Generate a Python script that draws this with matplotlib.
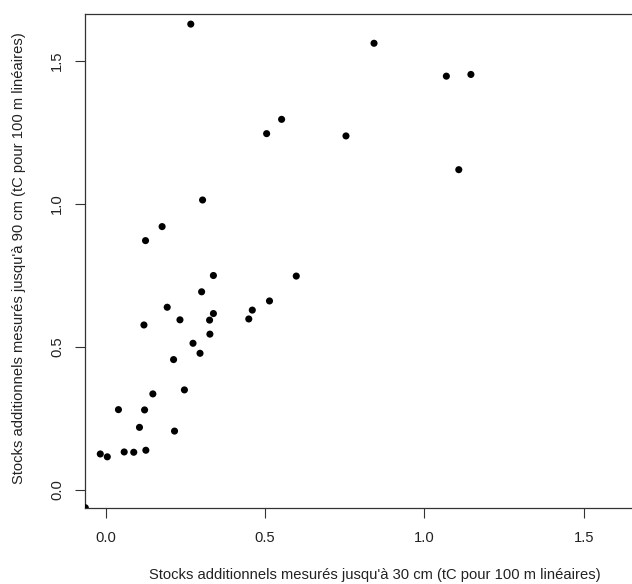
import matplotlib
matplotlib.use("Agg")
import matplotlib.pyplot as plt

plt.rcParams['font.family'] = ['Liberation Sans', 'DejaVu Sans']

# stocks additionnels (tC pour 100 m linéaires)
stock_30cm = [0.267, 0.842, 1.069, 1.146, 1.108, 0.552, 0.505, 0.754, 0.304,
              0.177, 0.125, 0.338, 0.598, 0.301, 0.514, 0.193, 0.338, 0.233,
              0.326, 0.460, 0.449, 0.120, 0.327, 0.274, 0.296, 0.213, 0.247,
              0.148, 0.040, 0.122, 0.106, 0.216, -0.017, 0.005, 0.058, 0.088,
              0.126, -0.064]
stock_90cm = [1.629, 1.562, 1.447, 1.453, 1.120, 1.296, 1.246, 1.238, 1.014,
              0.921, 0.872, 0.750, 0.748, 0.693, 0.661, 0.639, 0.617, 0.595,
              0.594, 0.629, 0.598, 0.577, 0.545, 0.513, 0.478, 0.456, 0.350,
              0.336, 0.281, 0.280, 0.219, 0.206, 0.126, 0.116, 0.133, 0.132,
              0.139, -0.062]

ticks = [0.0, 0.5, 1.0, 1.5]
tick_labels = ["0.0", "0.5", "1.0", "1.5"]

W, H = 632, 584
fig = plt.figure(figsize=(W / 100, H / 100), dpi=100)
# box runs off the right edge, like the original
ax = fig.add_axes([85 / W, (H - 508) / H, (640 - 85) / W, (508 - 14) / H])

ax.scatter(stock_30cm, stock_90cm, s=26, color="black", edgecolors="none", zorder=3)

ax.set_xlim((85 - 105.7) / 318.67, (640 - 105.7) / 318.67)
ax.set_ylim(-(508 - 490) / 286.0, (490 - 14) / 286.0)

ax.set_xticks(ticks)
ax.set_xticklabels(tick_labels)
ax.set_yticks(ticks)
ax.set_yticklabels(tick_labels, rotation=90, va="center")

for sp in ax.spines.values():
    sp.set_color("#333333")
    sp.set_linewidth(0.9)

ax.tick_params(axis="both", direction="out", length=7, width=0.8, color="#333333",
               labelsize=10.65, labelcolor="#222222")
ax.tick_params(axis="x", pad=9.5)
ax.tick_params(axis="y", pad=8)

fig.text(374.5 / W, 1 - 575 / H, "Stocks additionnels mesurés jusqu'à 30 cm (tC pour 100 m linéaires)",
         ha="center", va="center", fontsize=10.65, color="#222222")
fig.text(19 / W, 1 - 258 / H, "Stocks additionnels mesurés jusqu'à 90 cm (tC pour 100 m linéaires)",
         ha="center", va="center", rotation=90, fontsize=10.65, color="#222222")

fig.savefig("out.png", dpi=100)
